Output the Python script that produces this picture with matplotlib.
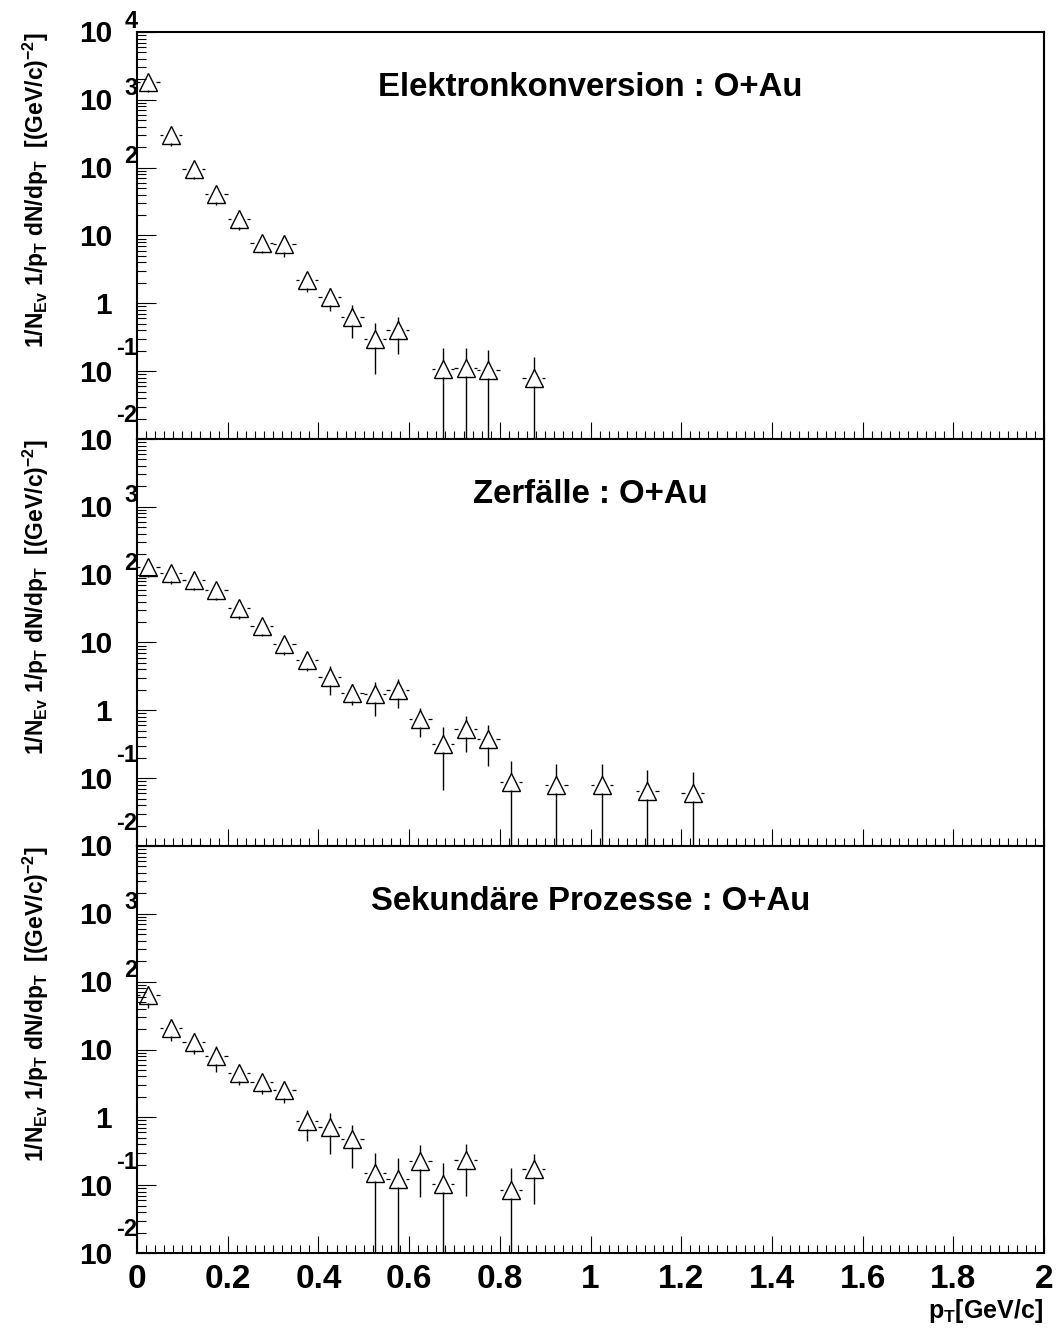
import numpy as np
import matplotlib
matplotlib.use("Agg")
import matplotlib.pyplot as plt
from matplotlib.ticker import MultipleLocator, LogLocator, NullFormatter

plt.rcParams['font.family'] = ['Liberation Sans', 'DejaVu Sans']
plt.rcParams['font.weight'] = 'bold'
plt.rcParams['mathtext.fontset'] = 'custom'
plt.rcParams['mathtext.rm'] = 'Liberation Sans:bold'
plt.rcParams['mathtext.bf'] = 'Liberation Sans:bold'
plt.rcParams['mathtext.it'] = 'Liberation Sans:bold'
plt.rcParams['mathtext.default'] = 'bf'

# ---------------- data ----------------
titles = ["Elektronkonversion : O+Au", "Zerfälle : O+Au", "Sekundäre Prozesse : O+Au"]

pt_conv = [0.025, 0.075, 0.125, 0.175, 0.225, 0.275, 0.325, 0.375, 0.425, 0.475,
           0.525, 0.575, 0.675, 0.725, 0.775, 0.875]
val_conv = [1840, 300, 97, 41.5, 17.7, 7.7, 7.5, 2.2, 1.22, 0.62,
            0.30, 0.40, 0.106, 0.11, 0.105, 0.080]
err_conv = [550, 90, 29, 13, 5.8, 2.2, 2.7, 0.74, 0.45, 0.31,
            0.21, 0.22, 0.11, 0.11, 0.10, 0.08]

pt_dec = [0.025, 0.075, 0.125, 0.175, 0.225, 0.275, 0.325, 0.375, 0.425, 0.475,
          0.525, 0.575, 0.625, 0.675, 0.725, 0.775, 0.825, 0.925, 1.025, 1.125, 1.225]
val_dec = [130, 106, 84, 60, 32.4, 17.8, 9.6, 5.5, 3.09, 1.82,
           1.72, 1.97, 0.74, 0.316, 0.537, 0.375, 0.088, 0.079, 0.079, 0.065, 0.0596]
err_dec = [39, 32, 25, 18, 10, 5.5, 3.0, 1.7, 1.42, 0.64,
           0.89, 0.9, 0.34, 0.25, 0.29, 0.225, 0.092, 0.082, 0.082, 0.067, 0.062]

pt_sec = [0.025, 0.075, 0.125, 0.175, 0.225, 0.275, 0.325, 0.375, 0.425, 0.475,
          0.525, 0.575, 0.625, 0.675, 0.725, 0.825, 0.875]
val_sec = [64, 20.7, 13.1, 7.9, 4.5, 3.3, 2.5, 0.87, 0.72, 0.48,
           0.15, 0.123, 0.228, 0.104, 0.236, 0.085, 0.172]
err_sec = [23, 7.2, 4.5, 3.2, 1.5, 1.1, 0.9, 0.42, 0.43, 0.30,
           0.15, 0.127, 0.16, 0.107, 0.166, 0.093, 0.12]

bin_half = 0.025
panels = [(pt_conv, val_conv, err_conv), (pt_dec, val_dec, err_dec), (pt_sec, val_sec, err_sec)]

xlim = (0, 2)
ylim = (1e-2, 1e4)
ytick_exps = [4, 3, 2, 1, 0, -1, -2]

# ---------------- layout ----------------
W, H = 1057, 1332
fig = plt.figure(figsize=(W / 100, H / 100), dpi=100)
left = 137 / W
width = 907 / W
ph = 407 / H
bottom0 = 1 - 1253 / H

gap_px = 8.0
px_per_x = width * W / (xlim[1] - xlim[0])
px_per_dec = ph * H / 6.0
gx = gap_px / px_per_x
gy = 10 ** (gap_px / px_per_dec)

ylabel = r'1/N$_{Ev}$ 1/p$_{T}$ dN/dp$_{T}$  [(GeV/c)$^{-2}$]'

for i, (x, v, e) in enumerate(panels):
    x = np.asarray(x); v = np.asarray(v, float); e = np.asarray(e, float)
    b = bottom0 + (2 - i) * ph
    ax = fig.add_axes([left, b, width, ph])
    ax.set_xlim(*xlim)
    ax.set_yscale('log')
    ax.set_ylim(*ylim)
    for s in ax.spines.values():
        s.set_linewidth(1.5)
    ax.xaxis.set_major_locator(MultipleLocator(0.2))
    ax.xaxis.set_minor_locator(MultipleLocator(0.02))
    ax.yaxis.set_major_locator(LogLocator(base=10, numticks=20))
    ax.yaxis.set_minor_locator(LogLocator(base=10, subs=np.arange(2, 10), numticks=20))
    ax.yaxis.set_major_formatter(NullFormatter())
    ax.yaxis.set_minor_formatter(NullFormatter())
    ax.tick_params(which='both', direction='in', top=False, right=False, width=0.8, color='black')
    ax.tick_params(axis='x', which='major', length=12.5)
    ax.tick_params(axis='x', which='minor', length=6)
    ax.tick_params(axis='y', which='major', length=14)
    ax.tick_params(axis='y', which='minor', length=6.5)
    if i < 2:
        ax.tick_params(axis='x', labelbottom=False)
    else:
        ax.tick_params(axis='x', which='major', labelsize=24, pad=8)
        for lab in ax.get_xticklabels():
            lab.set_fontweight('bold')
        ax.xaxis.set_major_formatter(matplotlib.ticker.FuncFormatter(
            lambda val, pos: '%g' % round(val, 2)))

    # error bars with marker gap (ROOT style)
    ax.hlines(v, x - bin_half, x - gx, color='black', lw=0.9)
    ax.hlines(v, x + gx, x + bin_half, color='black', lw=0.9)
    up = v + e
    lo = np.where(v - e > 0, v - e, 1e-3)
    m_up = up > v * gy
    ax.vlines(x[m_up], (v * gy)[m_up], up[m_up], color='black', lw=1.0)
    m_lo = lo < v / gy
    ax.vlines(x[m_lo], lo[m_lo], (v / gy)[m_lo], color='black', lw=1.0)
    ax.plot(x, v, linestyle='none', marker='^', ms=12.5, mfc='none', mec='black', mew=1.0)

    ax.text(0.5, 1 - 56 / 407, titles[i], transform=ax.transAxes, ha='center', va='center',
            fontsize=23.7, fontweight='bold')

    # y tick labels (ROOT style 10^n)
    for n in ytick_exps:
        if n == 4 and i > 0:
            continue
        yv = 10.0 ** n
        base = '1' if n == 0 else '10'
        ax.annotate(base, xy=(0, yv), xycoords=('axes fraction', 'data'),
                    xytext=(-25 * 0.72, -10.5 * 0.72), textcoords='offset points',
                    ha='right', va='baseline', fontsize=21.5, fontweight='bold',
                    annotation_clip=False)
        if n not in (0, 1):
            dy = 4.5 if n > 0 else 16.5
            ax.annotate('%d' % n, xy=(0, yv), xycoords=('axes fraction', 'data'),
                        xytext=(0.5 * 0.72, dy * 0.72), textcoords='offset points',
                        ha='right', va='baseline', fontsize=17, fontweight='bold',
                        annotation_clip=False)

    fig.text(36 / W, b + ph, ylabel, rotation=90, ha='center', va='top',
             fontsize=16.5, fontweight='bold')

fig.text(1043 / W, 1 - 1318 / H, r'p$_{T}$[GeV/c]', ha='right', va='baseline',
         fontsize=18, fontweight='bold')

fig.savefig('out.png', dpi=100)
